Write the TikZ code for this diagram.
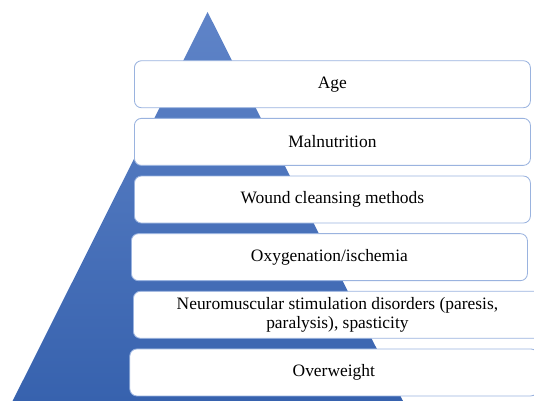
\documentclass[tikz,border=0pt]{standalone}
\usepackage{fontspec}
\setmainfont{Liberation Serif}
\newfontfamily\boxfont{Liberation Serif}
\usetikzlibrary{positioning}
\definecolor{pyrTop}{HTML}{5F84C8}
\definecolor{pyrBottom}{HTML}{3762AE}
\definecolor{boxLine}{HTML}{9AB3DF}
\tikzset{
  levelBox/.style={rectangle, rounded corners=5pt, draw=boxLine, fill=white,
                   line width=0.6pt, align=center,
                   font=\boxfont\fontsize{12.4}{13.3}\selectfont, inner sep=2pt,
                   minimum height=1.175cm, minimum width=9.9cm},
  wideBox/.style={levelBox, minimum width=10.2cm},
}
\begin{document}
\begin{tikzpicture}[node distance=0.245cm]
    \useasboundingbox (0,0) rectangle (13.35,-10.025);
    %% Piramide de fondo
    \coordinate (apex) at (5.19,-0.3);
    \coordinate (baseL) at (0.315,-10.025);
    \coordinate (baseR) at (10.075,-10.025);
    \shade[top color=pyrTop, bottom color=pyrBottom] (apex) -- (baseL) -- (baseR) -- cycle;

    %% Niveles
    \node[levelBox, anchor=north west] (age) at (3.35,-1.508) {Age};
    \node[levelBox, below=of age.south west, anchor=north west] (mal) {Malnutrition};
    \node[levelBox, below=of mal.south west, anchor=north west] (wound) {Wound cleansing methods};
    \node[levelBox, below=of wound.south west, anchor=north west, xshift=-0.075cm] (oxy) {Oxygenation/ischemia};
    \node[wideBox, below=of oxy.south west, anchor=north west, xshift=0.05cm] (neuro)
         {Neuromuscular stimulation disorders (paresis,\\ paralysis), spasticity};
    \node[wideBox, below=of neuro.south west, anchor=north west, xshift=-0.09cm] (over) {Overweight};
\end{tikzpicture}
\end{document}
